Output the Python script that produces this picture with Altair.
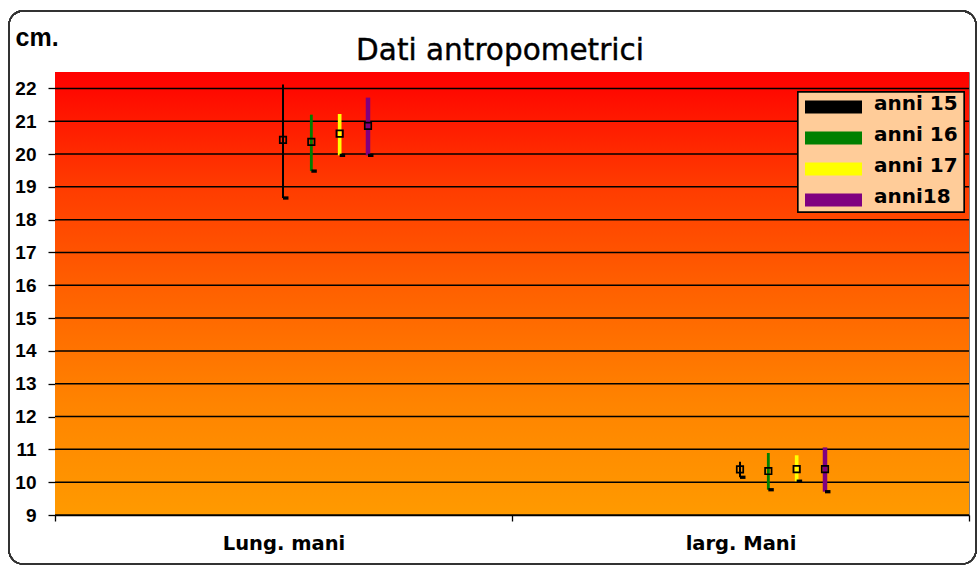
import altair as alt
import pandas as pd

categories = ["Lung. mani", "larg. Mani"]
series = ["anni 15", "anni 16", "anni 17", "anni18"]
colors = ["#000000", "#008000", "#FFFF00", "#800080"]
title_text = ["Dati antropometrici"]

high_lung = [22.12, 21.20, 21.22, 21.72]
low_lung = [18.66, 19.48, 19.96, 19.96]
mean_lung = [20.43, 20.37, 20.62, 20.86]

high_larg = [10.62, 10.89, 10.82, 11.06]
low_larg = [10.15, 9.77, 10.03, 9.71]
mean_larg = [10.39, 10.34, 10.40, 10.40]

y_ticks = list(range(9, 23))

rows = []
for cat, hi, lo, me in [(categories[0], high_lung, low_lung, mean_lung),
                        (categories[1], high_larg, low_larg, mean_larg)]:
    for s, h, l, m in zip(series, hi, lo, me):
        rows.append({"category": cat, "series": s, "high": h, "low": l, "mean": m})
df = pd.DataFrame(rows)
grid_df = pd.DataFrame({"v": y_ticks})
legend_df = pd.DataFrame({"series": series})
title_df = pd.DataFrame({"t": title_text})

W, H = 914, 443

yscale = alt.Scale(domain=[9, 22.5], nice=False, zero=False)
xscale = alt.Scale(domain=categories, paddingInner=0, paddingOuter=0)
offscale = alt.Scale(type="point", domain=series, range=[228, 313], padding=0)
colscale = alt.Scale(domain=series, range=colors)

yax = alt.Axis(values=y_ticks, grid=False, domain=False, tickSize=7, tickColor="black",
               tickWidth=1.3, labelFont="Liberation Sans", labelFontWeight="bold",
               labelFontSize=19, labelColor="black", labelPadding=12,
               title="cm.", titleAngle=0, titleX=-40, titleY=-27, titleAlign="left",
               titleBaseline="alphabetic", titleFont="Liberation Sans",
               titleFontSize=25, titleFontWeight="bold", titleColor="black")
xax = alt.Axis(title=None, labelAngle=0, tickBand="extent", tickSize=6, tickColor="black",
               tickWidth=1.3, domainColor="black", domainWidth=1.5,
               labelFont="DejaVu Sans", labelFontWeight="bold", labelFontSize=19.5,
               labelColor="black", labelPadding=13, labelBaseline="top")

def X():
    return alt.X("category:N", scale=xscale, axis=xax, sort=categories)

def XO():
    return alt.XOffset("series:N", scale=offscale, sort=series)

border = alt.Chart(grid_df).mark_rect(
    fill="transparent", stroke="#333333", strokeWidth=1.3, cornerRadius=14
).encode(x=alt.value(-46), x2=alt.value(921), y=alt.value(-61), y2=alt.value(492))

bg = alt.Chart(grid_df).mark_rect(
    fill=alt.Gradient(
        gradient="linear",
        stops=[alt.GradientStop(color="#FF0000", offset=0),
               alt.GradientStop(color="#FF3A00", offset=0.25),
               alt.GradientStop(color="#FF6200", offset=0.5),
               alt.GradientStop(color="#FF8400", offset=0.75),
               alt.GradientStop(color="#FF9A00", offset=1)],
        x1=0, x2=0, y1=0, y2=1)
).encode(x=alt.value(0), x2=alt.value(W), y=alt.value(0), y2=alt.value(H))

grid = alt.Chart(grid_df).mark_rule(color="black", strokeWidth=1.5).encode(
    y=alt.Y("v:Q", scale=yscale, axis=yax)
)

bars = alt.Chart(df).mark_rule().encode(
    x=X(), xOffset=XO(),
    y=alt.Y("low:Q", scale=yscale, axis=yax), y2="high:Q",
    color=alt.Color("series:N", scale=colscale, legend=None),
    strokeWidth=alt.StrokeWidth("series:O", scale=alt.Scale(domain=series, range=[2, 4.5, 6, 6]), legend=None),
)

lowticks = alt.Chart(df).mark_point(
    shape="M0,-0.6H2V0.6H0Z", filled=True, color="black", size=30, opacity=1
).encode(x=X(), xOffset=XO(), y=alt.Y("low:Q", scale=yscale, axis=yax))

means = alt.Chart(df).mark_point(
    shape="square", filled=False, stroke="black", strokeWidth=1.7, size=42, opacity=1
).encode(x=X(), xOffset=XO(), y=alt.Y("mean:Q", scale=yscale, axis=yax))

main = alt.layer(border, bg, grid, bars, lowticks, means)

lscale = alt.Scale(type="point", domain=series, range=[35, 128], padding=0)

box = alt.Chart(legend_df).mark_rect(fill="#FFCC99", stroke="black", strokeWidth=1.3).encode(
    x=alt.value(743), x2=alt.value(909), y=alt.value(20), y2=alt.value(140)
)
swatch = alt.Chart(legend_df).mark_point(
    shape="M-1,-0.23H1V0.23H-1Z", filled=True, size=3249, opacity=1
).encode(
    x=alt.value(778.5),
    y=alt.Y("series:N", scale=lscale, axis=None, sort=series),
    color=alt.Color("series:N", scale=colscale, legend=None),
)
ltext = alt.Chart(legend_df).mark_text(
    align="left", baseline="middle", dy=-3, font="DejaVu Sans", fontWeight="bold",
    fontSize=20, color="black"
).encode(
    x=alt.value(819),
    y=alt.Y("series:N", scale=lscale, axis=None, sort=series),
    text="series:N",
)
title = alt.Chart(title_df).mark_text(
    align="center", baseline="alphabetic", font="DejaVu Sans", fontSize=29.5,
    color="black", stroke="black", strokeWidth=0.4
).encode(x=alt.value(445), y=alt.value(-12), text="t:N")

legend = alt.layer(box, swatch, ltext, title)

chart = alt.layer(main, legend).resolve_scale(y="independent").properties(
    width=W, height=H,
    padding={"left": 55, "top": 72, "right": 9, "bottom": 52},
    autosize=alt.AutoSizeParams(type="none"),
    background="white",
).configure_view(stroke="#808080", strokeWidth=1)

chart.save("out.html", embed_options={"renderer": "svg", "actions": False})
